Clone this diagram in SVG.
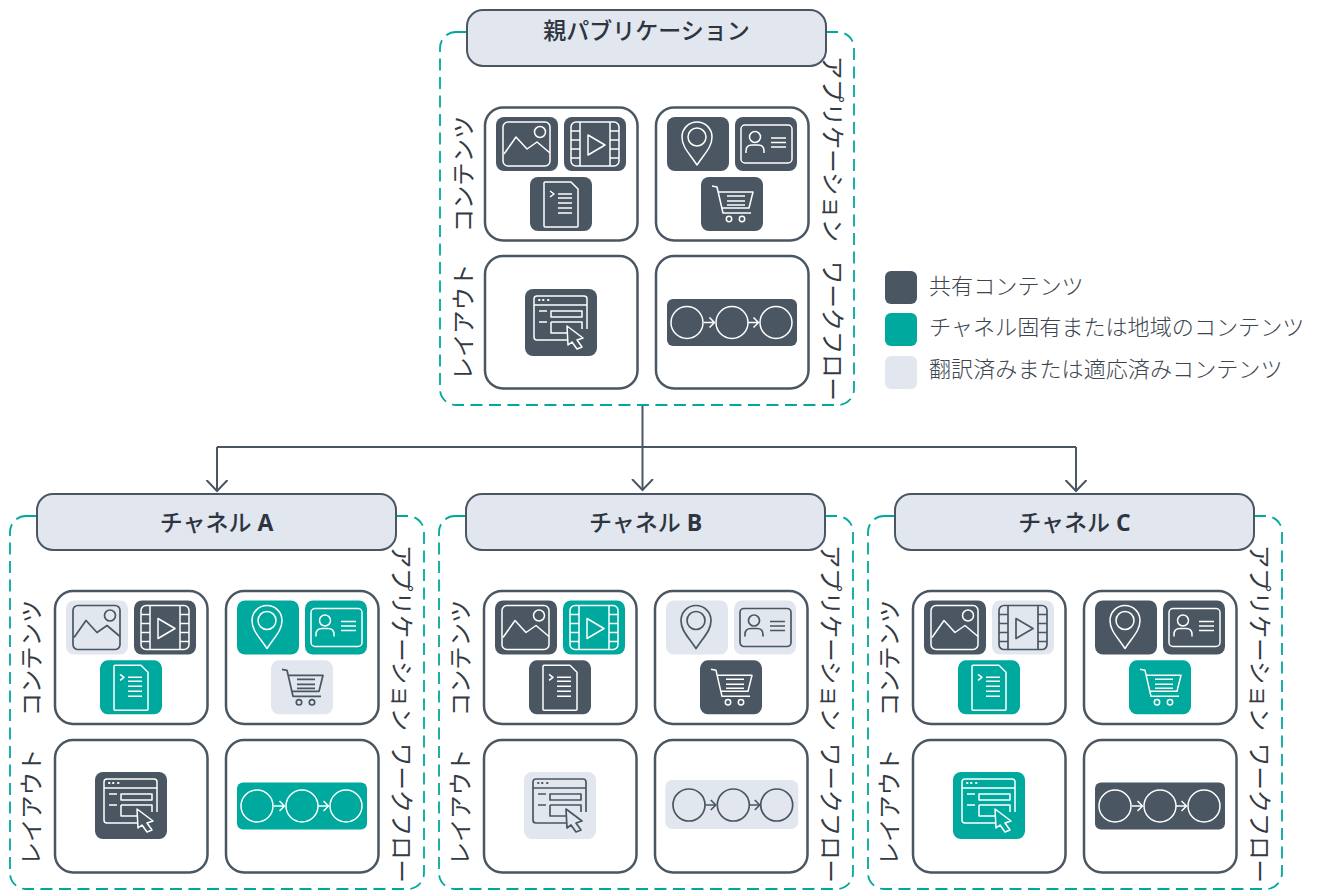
<svg xmlns="http://www.w3.org/2000/svg" width="1317" height="891" viewBox="0 0 1317 891">
<style>
text{font-family:"Open Sans","Noto Sans CJK JP","Noto Sans",sans-serif}
.lab{font-size:23.3px;font-weight:400;text-anchor:middle;fill:#333b45}
.leg{font-size:22.1px;font-weight:300;fill:#3d4650}
.ttl{font-size:23px;font-weight:500;text-anchor:middle;fill:#2d3540}
.ttl tspan{font-weight:700}
.frame{fill:none;stroke:#00a99d;stroke-width:1.8;stroke-dasharray:12 6.5}
.head{fill:#e1e6ef;stroke:#4a5661;stroke-width:2}
.box{fill:#fff;stroke:#4a5661;stroke-width:2.5}
.tile{fill:var(--bg)}
.ic{fill:none;stroke:var(--fg);stroke-width:var(--sw);stroke-linejoin:round}
.cur{fill:var(--bg);stroke:var(--fg);stroke-width:var(--sw);stroke-linejoin:round}
.d{--bg:#4a5661;--fg:#fff;--sw:1.5}
.t{--bg:#00a99d;--fg:#fff;--sw:1.5}
.l{--bg:#e1e6ef;--fg:#4a5661;--sw:1.7}
.conn{fill:none;stroke:#4a5661;stroke-width:2}
</style>
<defs>
<marker id="arr" markerUnits="userSpaceOnUse" markerWidth="24" markerHeight="24" refX="11" refY="11" orient="auto"><path d="M0 0.500L11 11L0 21.500" fill="none" stroke="#4a5661" stroke-width="2"/></marker>
<g id="i-image"><rect class="tile" width="62" height="54" rx="8"/><g class="ic"><rect x="7" y="5" width="47" height="44" rx="5"/><circle cx="44" cy="15" r="5.500"/><path d="M8 37L20 20L31 32L41 25L54 36"/></g></g>
<g id="i-film"><rect class="tile" width="62" height="54" rx="8"/><g class="ic"><rect x="7" y="5" width="48" height="44" rx="5"/><path d="M16 5V49M46 5V49M7 14H16M7 23H16M7 32H16M7 41H16M46 14H55M46 23H55M46 32H55M46 41H55M24 18L41 28L24 38Z"/></g></g>
<g id="i-doc"><rect class="tile" width="62" height="54" rx="8"/><g class="ic"><path d="M14 6Q14 5 15 5H41L48 12V49Q48 50 47 50H15Q14 50 14 49Z"/><path d="M20 14L24 17L20 20M28 17H42M28 21H42M28 26H42M28 31H42M28 36H42"/></g></g>
<g id="i-pin"><rect class="tile" width="62" height="54" rx="8"/><g class="ic"><path d="M30 48C22 36 15 30 15 20A15 15 0 0 1 45 20C45 30 38 36 30 48Z"/><circle cx="30" cy="20" r="9"/></g></g>
<g id="i-card"><rect class="tile" width="62" height="54" rx="8"/><g class="ic"><rect x="6" y="8" width="51" height="38" rx="4"/><circle cx="20" cy="20" r="5.500"/><path d="M11 36V34Q11 28 17 28H23Q29 28 29 34V36M36 21H51M36 25.500H51M36 30H51"/></g></g>
<g id="i-cart"><rect class="tile" width="62" height="54" rx="8"/><g class="ic"><path d="M11 9L16 10L22 36H50M17 15H52L48 31H21M26 19H44M26 24H44M26 28H44"/><circle cx="28" cy="42" r="2.700"/><circle cx="41" cy="42" r="2.700"/></g></g>
<g id="i-layout"><rect class="tile" width="72" height="67" rx="8"/><g class="ic"><path d="M62 40V10Q62 7 59 7H12Q9 7 9 10V48Q9 51 12 51H42M9 16H62M14 22H22M14 33H22"/><rect x="26" y="22" width="31" height="6"/><path d="M26 33H57V40M26 33V44H42"/><path stroke-linecap="round" d="M14 11h0.500M18 11h0.500M23 11h0.500" stroke-width="2"/></g><path class="cur" d="M42 37L58 49L52 51L57 58L52 60L47 53L43 56Z"/></g>
<g id="i-flow"><rect class="tile" width="130" height="47" rx="6"/><g class="ic"><circle cx="20" cy="23.500" r="16"/><circle cx="65" cy="23.500" r="16"/><circle cx="109" cy="23.500" r="16"/><path d="M37 23.500H47M42.500 18.500L47.500 23.500L42.500 28.500M81 23.500H91M86.500 18.500L91.500 23.500L86.500 28.500"/></g></g>
<g id="i-flow-wide"><rect class="tile" width="133" height="49" rx="7"/><g class="ic"><circle cx="23.700" cy="25" r="16"/><circle cx="68" cy="25" r="16"/><circle cx="111.400" cy="25" r="16"/><path d="M40 25H50M45.500 20L50.500 25L45.500 30M84 25H94M89.500 20L94.500 25L89.500 30"/></g></g>
</defs>

<g id="connectors">
<path class="conn" d="M642.500 405V447"/>
<path class="conn" d="M217 447H1076"/>
<path class="conn" marker-end="url(#arr)" d="M217 447V491"/>
<path class="conn" marker-end="url(#arr)" d="M642.500 447V490"/>
<path class="conn" marker-end="url(#arr)" d="M1076 447V491"/>
</g>

<g id="parent-publication">
<rect class="frame" x="440" y="32" width="414" height="373" rx="16"/>
<rect class="head" x="467" y="10" width="359" height="56" rx="16"/>
<text class="ttl" x="646.500" y="39">親パブリケーション</text>
<rect class="box" x="485" y="107.500" width="152.500" height="133" rx="18"/>
<rect class="box" x="656" y="107.500" width="152.500" height="133" rx="18"/>
<rect class="box" x="485" y="256" width="152.500" height="132.500" rx="18"/>
<rect class="box" x="656" y="256" width="152.500" height="132.500" rx="18"/>
<text class="lab" transform="translate(472,174) rotate(-90)">コンテンツ</text>
<text class="lab" transform="translate(472,322) rotate(-90)">レイアウト</text>
<text class="lab" transform="translate(823.500,149) rotate(90)">アプリケーション</text>
<text class="lab" transform="translate(823.500,331) rotate(90)">ワークフロー</text>
<use class="d" href="#i-image" x="496" y="117"/>
<use class="d" href="#i-film" x="564" y="117"/>
<use class="d" href="#i-doc" x="530" y="177"/>
<use class="d" href="#i-pin" x="667" y="117"/>
<use class="d" href="#i-card" x="735" y="117"/>
<use class="d" href="#i-cart" x="701" y="177"/>
<use class="d" href="#i-layout" x="525" y="289"/>
<use class="d" href="#i-flow" x="667" y="299"/>
</g>

<g id="channel-a" transform="translate(-430,0)">
<rect class="frame" x="440" y="516" width="414" height="373" rx="16"/>
<rect class="head" x="467" y="494" width="359" height="56" rx="16"/>
<text class="ttl" x="646.500" y="531">チャネル <tspan>A</tspan></text>
<rect class="box" x="485" y="591" width="152.500" height="133" rx="18"/>
<rect class="box" x="656" y="591" width="152.500" height="133" rx="18"/>
<rect class="box" x="485" y="740" width="152.500" height="132.500" rx="18"/>
<rect class="box" x="656" y="740" width="152.500" height="132.500" rx="18"/>
<text class="lab" transform="translate(469.500,658) rotate(-90)">コンテンツ</text>
<text class="lab" transform="translate(469.500,807) rotate(-90)">レイアウト</text>
<text class="lab" transform="translate(823,638) rotate(90)">アプリケーション</text>
<text class="lab" transform="translate(823,813) rotate(90)">ワークフロー</text>
<use class="l" href="#i-image" x="496" y="600.500"/>
<use class="d" href="#i-film" x="564" y="600.500"/>
<use class="t" href="#i-doc" x="530" y="660.300"/>
<use class="t" href="#i-pin" x="667" y="600.500"/>
<use class="t" href="#i-card" x="735" y="600.500"/>
<use class="l" href="#i-cart" x="701" y="660.300"/>
<use class="d" href="#i-layout" x="525" y="772"/>
<use class="t" href="#i-flow" x="667" y="782.500"/>
</g>

<g id="channel-b" transform="translate(-1,0)">
<rect class="frame" x="440" y="516" width="414" height="373" rx="16"/>
<rect class="head" x="467" y="494" width="359" height="56" rx="16"/>
<text class="ttl" x="646.500" y="531">チャネル <tspan>B</tspan></text>
<rect class="box" x="485" y="591" width="152.500" height="133" rx="18"/>
<rect class="box" x="656" y="591" width="152.500" height="133" rx="18"/>
<rect class="box" x="485" y="740" width="152.500" height="132.500" rx="18"/>
<rect class="box" x="656" y="740" width="152.500" height="132.500" rx="18"/>
<text class="lab" transform="translate(469.500,658) rotate(-90)">コンテンツ</text>
<text class="lab" transform="translate(469.500,807) rotate(-90)">レイアウト</text>
<text class="lab" transform="translate(823,638) rotate(90)">アプリケーション</text>
<text class="lab" transform="translate(823,813) rotate(90)">ワークフロー</text>
<use class="d" href="#i-image" x="496" y="600.500"/>
<use class="t" href="#i-film" x="564" y="600.500"/>
<use class="d" href="#i-doc" x="530" y="660.300"/>
<use class="l" href="#i-pin" x="667" y="600.500"/>
<use class="l" href="#i-card" x="735" y="600.500"/>
<use class="d" href="#i-cart" x="701" y="660.300"/>
<use class="l" href="#i-layout" x="525" y="772"/>
<use class="l" href="#i-flow-wide" x="666.300" y="780"/>
</g>

<g id="channel-c" transform="translate(428,0)">
<rect class="frame" x="440" y="516" width="414" height="373" rx="16"/>
<rect class="head" x="467" y="494" width="359" height="56" rx="16"/>
<text class="ttl" x="646.500" y="531">チャネル <tspan>C</tspan></text>
<rect class="box" x="485" y="591" width="152.500" height="133" rx="18"/>
<rect class="box" x="656" y="591" width="152.500" height="133" rx="18"/>
<rect class="box" x="485" y="740" width="152.500" height="132.500" rx="18"/>
<rect class="box" x="656" y="740" width="152.500" height="132.500" rx="18"/>
<text class="lab" transform="translate(469.500,658) rotate(-90)">コンテンツ</text>
<text class="lab" transform="translate(469.500,807) rotate(-90)">レイアウト</text>
<text class="lab" transform="translate(823,638) rotate(90)">アプリケーション</text>
<text class="lab" transform="translate(823,813) rotate(90)">ワークフロー</text>
<use class="d" href="#i-image" x="496" y="600.500"/>
<use class="l" href="#i-film" x="564" y="600.500"/>
<use class="t" href="#i-doc" x="530" y="660.300"/>
<use class="d" href="#i-pin" x="667" y="600.500"/>
<use class="d" href="#i-card" x="735" y="600.500"/>
<use class="t" href="#i-cart" x="701" y="660.300"/>
<use class="t" href="#i-layout" x="525" y="772"/>
<use class="d" href="#i-flow" x="667" y="782.500"/>
</g>

<g id="legend">
<rect x="885" y="271" width="32" height="33" rx="6" fill="#4a5661"/>
<text class="leg" x="929" y="294">共有コンテンツ</text>
<rect x="885" y="313" width="32" height="33" rx="6" fill="#00a99d"/>
<text class="leg" x="929" y="335">チャネル固有または地域のコンテンツ</text>
<rect x="885" y="356" width="32" height="33" rx="6" fill="#e1e6ef"/>
<text class="leg" x="929" y="377">翻訳済みまたは適応済みコンテンツ</text>
</g>
</svg>
